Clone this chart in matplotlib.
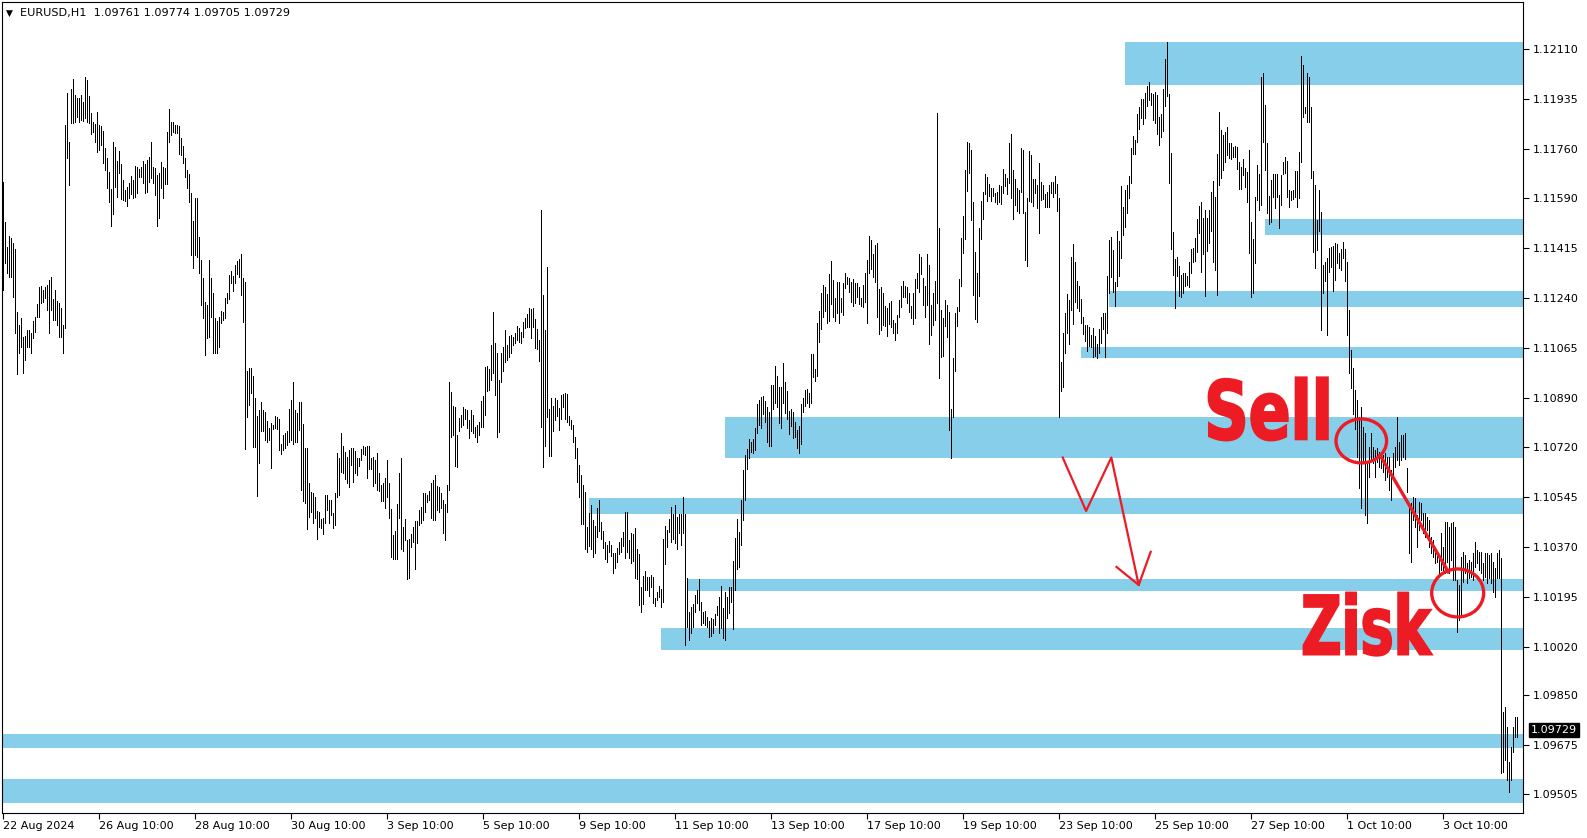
import matplotlib.pyplot as plt
import matplotlib.transforms as mtransforms
from matplotlib.font_manager import FontProperties
from matplotlib.patches import Ellipse, PathPatch
from matplotlib.textpath import TextPath
import numpy as np

# EURUSD H1 bars, first bar 22 Aug 2024 10:00, one bar per hour
highs = [
    1.11646, 1.11506, 1.11418, 1.11457, 1.11450, 1.11432, 1.11411, 1.11191, 1.11145, 1.11170,
    1.11103, 1.11107, 1.11128, 1.11128, 1.11117, 1.11159, 1.11173, 1.11219, 1.11278, 1.11282,
    1.11268, 1.11278, 1.11285, 1.11303, 1.11313, 1.11236, 1.11268, 1.11229, 1.11222, 1.11205,
    1.11145, 1.11845, 1.11957, 1.11786, 1.11971, 1.12006, 1.11950, 1.11940, 1.11940, 1.11950,
    1.11926, 1.12013, 1.12003, 1.11947, 1.11887, 1.11856, 1.11849, 1.11891, 1.11845, 1.11842,
    1.11824, 1.11765, 1.11730, 1.11681, 1.11621, 1.11786, 1.11768, 1.11719, 1.11754, 1.11709,
    1.11653, 1.11618, 1.11628, 1.11642, 1.11667, 1.11653, 1.11702, 1.11698, 1.11691, 1.11698,
    1.11719, 1.11709, 1.11723, 1.11733, 1.11786, 1.11698, 1.11695, 1.11670, 1.11677, 1.11716,
    1.11698, 1.11695, 1.11821, 1.11901, 1.11856, 1.11856, 1.11845, 1.11845, 1.11842, 1.11800,
    1.11772, 1.11730, 1.11688, 1.11674, 1.11607, 1.11509, 1.11590, 1.11590, 1.11453, 1.11373,
    1.11310, 1.11226, 1.11215, 1.11373, 1.11310, 1.11257, 1.11170, 1.11159, 1.11173, 1.11194,
    1.11191, 1.11240, 1.11257, 1.11320, 1.11334, 1.11317, 1.11355, 1.11369, 1.11376, 1.11394,
    1.11310, 1.11296,
    1.10984, 1.10995, 1.10995, 1.10967, 1.10890, 1.10827, 1.10848, 1.10876, 1.10848, 1.10841,
    1.10809, 1.10785, 1.10802, 1.10795, 1.10827, 1.10823, 1.10816, 1.10729, 1.10760, 1.10767,
    1.10774, 1.10851, 1.10883, 1.10946, 1.10848, 1.10837, 1.10876, 1.10876, 1.10799, 1.10715,
    1.10715, 1.10592, 1.10561, 1.10557, 1.10543, 1.10494, 1.10491, 1.10466, 1.10470, 1.10550,
    1.10550, 1.10533, 1.10533, 1.10487, 1.10557, 1.10697, 1.10680, 1.10767, 1.10722, 1.10701,
    1.10683, 1.10708, 1.10715, 1.10715, 1.10704, 1.10680, 1.10680, 1.10711, 1.10722, 1.10718,
    1.10722, 1.10722, 1.10680, 1.10683, 1.10673, 1.10697, 1.10627, 1.10585, 1.10592, 1.10610,
    1.10673, 1.10592, 1.10501, 1.10410, 1.10424, 1.10519, 1.10627, 1.10680, 1.10438, 1.10466,
    1.10393, 1.10396, 1.10414, 1.10438, 1.10459, 1.10459, 1.10498, 1.10508, 1.10557, 1.10557,
    1.10550, 1.10564, 1.10592, 1.10603, 1.10620, 1.10582, 1.10578, 1.10557, 1.10533, 1.10519,
    1.10585, 1.10946, 1.10911, 1.10862, 1.10858, 1.10760, 1.10820, 1.10830, 1.10858, 1.10851,
    1.10848, 1.10813, 1.10848, 1.10830, 1.10788, 1.10795, 1.10806, 1.10879, 1.10897, 1.10998,
    1.11002, 1.10991, 1.11075, 1.11191, 1.11082, 1.11047, 1.10953,
    1.11047, 1.11068, 1.11128, 1.11075, 1.11107, 1.11110, 1.11103, 1.11117, 1.11142, 1.11135,
    1.11121, 1.11156, 1.11170, 1.11184, 1.11205, 1.11201, 1.11205, 1.11166, 1.11131, 1.11093,
    1.11548, 1.11250, 1.11128, 1.11348, 1.10851, 1.10890, 1.10862, 1.10890, 1.10883, 1.10855,
    1.10900, 1.10904, 1.10907, 1.10904, 1.10827, 1.10813, 1.10795, 1.10753, 1.10715, 1.10655,
    1.10620, 1.10585, 1.10561, 1.10438, 1.10487, 1.10515, 1.10463, 1.10442, 1.10505, 1.10533,
    1.10456, 1.10424, 1.10386, 1.10375, 1.10389, 1.10375, 1.10347, 1.10347, 1.10365, 1.10386,
    1.10400, 1.10421, 1.10491, 1.10491, 1.10393, 1.10417, 1.10414, 1.10435, 1.10361, 1.10344,
    1.10228, 1.10267, 1.10284, 1.10263, 1.10263, 1.10270, 1.10263, 1.10190, 1.10211, 1.10232,
    1.10221, 1.10396, 1.10442, 1.10428, 1.10466, 1.10508, 1.10484, 1.10515, 1.10473, 1.10484,
    1.10484, 1.10543, 1.10484, 1.10260, 1.10141, 1.10158, 1.10169, 1.10200, 1.10218, 1.10256,
    1.10176, 1.10141, 1.10144, 1.10123, 1.10109, 1.10120, 1.10116, 1.10134, 1.10162, 1.10193,
    1.10232, 1.10155, 1.10211, 1.10193, 1.10228, 1.10228, 1.10319, 1.10400, 1.10466, 1.10421,
    1.10533, 1.10638, 1.10690,
    1.10712, 1.10746, 1.10736, 1.10746, 1.10785, 1.10869, 1.10883, 1.10893, 1.10897, 1.10879,
    1.10858, 1.10841, 1.10935, 1.10935, 1.11002, 1.10967, 1.10928, 1.10928, 1.11012, 1.10946,
    1.10914, 1.10844, 1.10851, 1.10841, 1.10806, 1.10778, 1.10792, 1.10869, 1.10890, 1.10918,
    1.10921, 1.10907, 1.11044, 1.11044, 1.10991, 1.11152, 1.11194, 1.11257, 1.11285, 1.11278,
    1.11254, 1.11324, 1.11369, 1.11303, 1.11240, 1.11296, 1.11296, 1.11240, 1.11292, 1.11327,
    1.11313, 1.11310, 1.11296, 1.11306, 1.11292, 1.11292, 1.11278, 1.11240, 1.11285, 1.11327,
    1.11373, 1.11457, 1.11443, 1.11394, 1.11425, 1.11432, 1.11271, 1.11278, 1.11257, 1.11212,
    1.11205, 1.11222, 1.11229, 1.11163, 1.11152, 1.11180, 1.11233, 1.11282, 1.11299, 1.11282,
    1.11278, 1.11257, 1.11212, 1.11257, 1.11306, 1.11327, 1.11394, 1.11383, 1.11310, 1.11282,
    1.11394, 1.11355, 1.11215, 1.11257, 1.11299, 1.11887, 1.11485, 1.11198, 1.11170, 1.11233,
    1.11215, 1.11191, 1.10851, 1.11030, 1.11187, 1.11208, 1.11306,
    1.11450, 1.11527, 1.11688, 1.11786, 1.11782, 1.11758, 1.11576, 1.11401, 1.11327, 1.11485,
    1.11579, 1.11611, 1.11674, 1.11663, 1.11639, 1.11625, 1.11625, 1.11607, 1.11611, 1.11635,
    1.11632, 1.11691, 1.11674, 1.11660, 1.11782, 1.11814, 1.11688, 1.11657, 1.11625, 1.11618,
    1.11765, 1.11758, 1.11541, 1.11590, 1.11754, 1.11741, 1.11657, 1.11657, 1.11635, 1.11712,
    1.11646, 1.11635, 1.11604, 1.11611, 1.11635, 1.11646, 1.11646, 1.11667, 1.11639, 1.11590,
    1.11016, 1.11117, 1.11187, 1.11254, 1.11233, 1.11383, 1.11429, 1.11366, 1.11299, 1.11282,
    1.11236, 1.11173, 1.11145, 1.11145, 1.11138, 1.11110, 1.11135, 1.11107, 1.11079, 1.11131,
    1.11173, 1.11187, 1.11187, 1.11317, 1.11443, 1.11453, 1.11408, 1.11296, 1.11474, 1.11439,
    1.11632, 1.11558, 1.11618, 1.11635, 1.11667, 1.11765, 1.11807, 1.11793, 1.11884, 1.11908,
    1.11936, 1.11936, 1.11957, 1.11982, 1.11996, 1.11957, 1.11954, 1.11961, 1.11950, 1.11873,
    1.11884, 1.11971, 1.12076, 1.12136, 1.11954, 1.11747, 1.11471, 1.11376, 1.11383, 1.11352,
    1.11320, 1.11327, 1.11327, 1.11317, 1.11366, 1.11411, 1.11415, 1.11450, 1.11516, 1.11562,
    1.11576, 1.11520, 1.11548, 1.11520, 1.11548, 1.11611, 1.11649, 1.11593, 1.11744, 1.11891,
    1.11828, 1.11810, 1.11821, 1.11838, 1.11782, 1.11782, 1.11768, 1.11772, 1.11768, 1.11716,
    1.11698, 1.11726, 1.11695, 1.11681, 1.11758, 1.11506, 1.11446, 1.11593, 1.11705, 1.11674,
    1.12013, 1.12027, 1.11915, 1.11782, 1.11597, 1.11653, 1.11674, 1.11674, 1.11674, 1.11600,
    1.11670, 1.11716, 1.11733, 1.11719, 1.11618, 1.11614, 1.11618, 1.11684, 1.11684, 1.11751,
    1.12087, 1.12055, 1.11908, 1.12027, 1.12013, 1.11908, 1.11684, 1.11635, 1.11513, 1.11618,
    1.11541, 1.11355, 1.11366, 1.11380, 1.11415, 1.11418, 1.11422, 1.11432, 1.11429, 1.11397,
    1.11411, 1.11436, 1.11411, 1.11366, 1.11198,
    1.11058, 1.10995, 1.10918, 1.10883, 1.10823, 1.10858, 1.10788, 1.10767, 1.10662, 1.10718,
    1.10767, 1.10718, 1.10708, 1.10715, 1.10701, 1.10680, 1.10690, 1.10697, 1.10683, 1.10683,
    1.10638, 1.10697, 1.10718, 1.10823, 1.10736, 1.10760, 1.10760, 1.10767, 1.10645, 1.10508,
    1.10522, 1.10543, 1.10540, 1.10480, 1.10526, 1.10522, 1.10487, 1.10487, 1.10473, 1.10463,
    1.10403, 1.10393, 1.10368, 1.10347, 1.10340, 1.10417, 1.10368, 1.10456, 1.10456, 1.10438,
    1.10452, 1.10456, 1.10438, 1.10253, 1.10235, 1.10333, 1.10351, 1.10340, 1.10312, 1.10323,
    1.10316, 1.10347, 1.10386, 1.10358, 1.10351, 1.10351, 1.10312, 1.10347, 1.10347, 1.10340,
    1.10347, 1.10316, 1.10295, 1.10347, 1.10358, 1.10330, 1.09791,
    1.09808, 1.09738, 1.09616, 1.09668, 1.09738, 1.09773, 1.09774,
]

lows = [
    1.11268, 1.11362, 1.11327, 1.11313, 1.11313, 1.11243, 1.11117, 1.10974, 1.11047, 1.11068,
    1.10977, 1.11023, 1.11068, 1.11068, 1.11047, 1.11100, 1.11121, 1.11173, 1.11173, 1.11222,
    1.11226, 1.11240, 1.11198, 1.11117, 1.11198, 1.11163, 1.11163, 1.11145, 1.11103, 1.11103,
    1.11047, 1.11135, 1.11730, 1.11635, 1.11852, 1.11852, 1.11856, 1.11873, 1.11856, 1.11863,
    1.11859, 1.11870, 1.11856, 1.11852, 1.11814, 1.11821, 1.11786, 1.11751, 1.11758, 1.11775,
    1.11712, 1.11688, 1.11625, 1.11576, 1.11492, 1.11534, 1.11628, 1.11593, 1.11677, 1.11586,
    1.11583, 1.11579, 1.11562, 1.11590, 1.11604, 1.11590, 1.11593, 1.11607, 1.11663, 1.11663,
    1.11642, 1.11607, 1.11611, 1.11646, 1.11660, 1.11642, 1.11600, 1.11492, 1.11520, 1.11625,
    1.11590, 1.11639, 1.11639, 1.11786, 1.11810, 1.11821, 1.11817, 1.11817, 1.11744, 1.11740,
    1.11712, 1.11663, 1.11625, 1.11576, 1.11390, 1.11345, 1.11390, 1.11383, 1.11327, 1.11215,
    1.11170, 1.11040, 1.11100, 1.11103, 1.11173, 1.11047, 1.11047, 1.11047, 1.11068, 1.11152,
    1.11163, 1.11170, 1.11222, 1.11236, 1.11292, 1.11264, 1.11292, 1.11324, 1.11313, 1.11250,
    1.11156, 1.10711,
    1.10823, 1.10865, 1.10907, 1.10718, 1.10718, 1.10547, 1.10662, 1.10774, 1.10774, 1.10743,
    1.10736, 1.10743, 1.10645, 1.10781, 1.10785, 1.10781, 1.10708, 1.10694, 1.10708, 1.10715,
    1.10725, 1.10736, 1.10743, 1.10729, 1.10736, 1.10736, 1.10778, 1.10568, 1.10529, 1.10522,
    1.10431, 1.10473, 1.10491, 1.10452, 1.10470, 1.10396, 1.10438, 1.10435, 1.10414, 1.10452,
    1.10498, 1.10452, 1.10480, 1.10435, 1.10445, 1.10543, 1.10550, 1.10631, 1.10627, 1.10606,
    1.10592, 1.10578, 1.10655, 1.10596, 1.10627, 1.10620, 1.10652, 1.10673, 1.10694, 1.10690,
    1.10610, 1.10641, 1.10641, 1.10582, 1.10592, 1.10568, 1.10564, 1.10529, 1.10529, 1.10505,
    1.10543, 1.10470, 1.10333, 1.10326, 1.10326, 1.10326, 1.10470, 1.10361, 1.10354, 1.10393,
    1.10256, 1.10260, 1.10368, 1.10386, 1.10291, 1.10382, 1.10445, 1.10452, 1.10463, 1.10491,
    1.10526, 1.10533, 1.10470, 1.10463, 1.10463, 1.10498, 1.10491, 1.10505, 1.10417, 1.10393,
    1.10491, 1.10568, 1.10753, 1.10760, 1.10652, 1.10648, 1.10774, 1.10788, 1.10795, 1.10816,
    1.10785, 1.10750, 1.10774, 1.10767, 1.10753, 1.10736, 1.10760, 1.10788, 1.10788, 1.10830,
    1.10914, 1.10918, 1.10953, 1.10977, 1.10900, 1.10753, 1.10771,
    1.10946, 1.10984, 1.11016, 1.11023, 1.11033, 1.11047, 1.11075, 1.11082, 1.11093, 1.11086,
    1.11082, 1.11103, 1.11135, 1.11138, 1.11138, 1.11100, 1.11138, 1.11065, 1.11061, 1.11019,
    1.10788, 1.10648, 1.10722, 1.10823, 1.10687, 1.10687, 1.10774, 1.10813, 1.10827, 1.10778,
    1.10816, 1.10858, 1.10816, 1.10806, 1.10795, 1.10781, 1.10736, 1.10680, 1.10596, 1.10543,
    1.10449, 1.10449, 1.10361, 1.10351, 1.10372, 1.10361, 1.10333, 1.10347, 1.10403, 1.10424,
    1.10396, 1.10365, 1.10326, 1.10316, 1.10351, 1.10337, 1.10277, 1.10295, 1.10316, 1.10344,
    1.10351, 1.10372, 1.10330, 1.10351, 1.10330, 1.10312, 1.10319, 1.10260, 1.10256, 1.10165,
    1.10141, 1.10169, 1.10218, 1.10218, 1.10197, 1.10228, 1.10172, 1.10162, 1.10183, 1.10193,
    1.10158, 1.10176, 1.10309, 1.10368, 1.10421, 1.10386, 1.10396, 1.10382, 1.10361, 1.10417,
    1.10375, 1.10417, 1.10025, 1.10088, 1.10043, 1.10067, 1.10088, 1.10141, 1.10172, 1.10148,
    1.10095, 1.10102, 1.10095, 1.10088, 1.10053, 1.10057, 1.10067, 1.10095, 1.10130, 1.10067,
    1.10085, 1.10050, 1.10043, 1.10120, 1.10137, 1.10176, 1.10081, 1.10218, 1.10291, 1.10298,
    1.10375, 1.10463, 1.10533,
    1.10641, 1.10680, 1.10701, 1.10697, 1.10708, 1.10767, 1.10795, 1.10785, 1.10834, 1.10806,
    1.10736, 1.10722, 1.10722, 1.10851, 1.10872, 1.10858, 1.10802, 1.10785, 1.10872, 1.10837,
    1.10816, 1.10764, 1.10792, 1.10750, 1.10753, 1.10715, 1.10697, 1.10729, 1.10841, 1.10862,
    1.10872, 1.10858, 1.10872, 1.10963, 1.10949, 1.10967, 1.11086, 1.11131, 1.11173, 1.11194,
    1.11152, 1.11159, 1.11219, 1.11173, 1.11159, 1.11187, 1.11152, 1.11191, 1.11180, 1.11275,
    1.11289, 1.11261, 1.11226, 1.11212, 1.11222, 1.11243, 1.11219, 1.11212, 1.11208, 1.11226,
    1.11152, 1.11327, 1.11341, 1.11313, 1.11296, 1.11173, 1.11114, 1.11128, 1.11145, 1.11142,
    1.11107, 1.11149, 1.11138, 1.11117, 1.11093, 1.11117, 1.11173, 1.11208, 1.11243, 1.11243,
    1.11222, 1.11191, 1.11170, 1.11149, 1.11170, 1.11275, 1.11261, 1.11324, 1.11215, 1.11173,
    1.11215, 1.11079, 1.11110, 1.11145, 1.11163, 1.11222, 1.10960, 1.11033, 1.11037, 1.11142,
    1.11103, 1.10778, 1.10680, 1.10823, 1.10984, 1.11142, 1.11194,
    1.11282, 1.11397, 1.11446, 1.11614, 1.11677, 1.11513, 1.11250, 1.11166, 1.11156, 1.11247,
    1.11446, 1.11516, 1.11604, 1.11579, 1.11597, 1.11579, 1.11597, 1.11576, 1.11569, 1.11576,
    1.11569, 1.11607, 1.11632, 1.11604, 1.11642, 1.11590, 1.11516, 1.11566, 1.11545, 1.11538,
    1.11611, 1.11538, 1.11373, 1.11352, 1.11579, 1.11576, 1.11562, 1.11607, 1.11555, 1.11468,
    1.11583, 1.11586, 1.11558, 1.11558, 1.11558, 1.11607, 1.11593, 1.11607, 1.11545, 1.10823,
    1.10914, 1.10928, 1.11047, 1.11117, 1.11079, 1.11198, 1.11149, 1.11226, 1.11205, 1.11194,
    1.11152, 1.11114, 1.11090, 1.11054, 1.11072, 1.11068, 1.11033, 1.11037, 1.11030, 1.11047,
    1.11082, 1.11131, 1.11033, 1.11117, 1.11257, 1.11313, 1.11261, 1.11212, 1.11282, 1.11317,
    1.11380, 1.11460, 1.11488, 1.11538, 1.11590, 1.11642, 1.11744, 1.11744, 1.11786, 1.11831,
    1.11870, 1.11849, 1.11870, 1.11912, 1.11933, 1.11915, 1.11863, 1.11852, 1.11814, 1.11775,
    1.11803, 1.11824, 1.11912, 1.11947, 1.11642, 1.11411, 1.11320, 1.11205, 1.11317, 1.11247,
    1.11243, 1.11257, 1.11282, 1.11285, 1.11278, 1.11327, 1.11366, 1.11369, 1.11401, 1.11468,
    1.11331, 1.11394, 1.11247, 1.11404, 1.11432, 1.11474, 1.11366, 1.11338, 1.11250, 1.11635,
    1.11660, 1.11688, 1.11716, 1.11740, 1.11730, 1.11726, 1.11733, 1.11733, 1.11691, 1.11621,
    1.11621, 1.11670, 1.11628, 1.11576, 1.11397, 1.11243, 1.11257, 1.11362, 1.11583, 1.11548,
    1.11565, 1.11786, 1.11688, 1.11538, 1.11499, 1.11506, 1.11593, 1.11555, 1.11593, 1.11485,
    1.11565, 1.11674, 1.11677, 1.11593, 1.11558, 1.11583, 1.11586, 1.11593, 1.11558, 1.11590,
    1.11716, 1.11873, 1.11887, 1.11856, 1.11856, 1.11660, 1.11401, 1.11345, 1.11408, 1.11474,
    1.11128, 1.11257, 1.11299, 1.11110, 1.11331, 1.11348, 1.11264, 1.11303, 1.11362, 1.11345,
    1.11338, 1.11380, 1.11299, 1.11110, 1.10977,
    1.10925, 1.10834, 1.10781, 1.10683, 1.10575, 1.10505, 1.10666, 1.10480, 1.10452, 1.10613,
    1.10673, 1.10662, 1.10613, 1.10666, 1.10648, 1.10645, 1.10631, 1.10603, 1.10613, 1.10568,
    1.10533, 1.10613, 1.10648, 1.10673, 1.10655, 1.10673, 1.10683, 1.10676, 1.10561, 1.10347,
    1.10316, 1.10463, 1.10438, 1.10368, 1.10428, 1.10463, 1.10417, 1.10403, 1.10428, 1.10368,
    1.10347, 1.10333, 1.10312, 1.10316, 1.10263, 1.10288, 1.10277, 1.10277, 1.10316, 1.10277,
    1.10323, 1.10253, 1.10253, 1.10071, 1.10113, 1.10123, 1.10246, 1.10277, 1.10242, 1.10260,
    1.10263, 1.10253, 1.10298, 1.10312, 1.10288, 1.10277, 1.10253, 1.10263, 1.10242, 1.10260,
    1.10242, 1.10211, 1.10193, 1.10260, 1.10260, 1.09577, 1.09581,
    1.09623, 1.09553, 1.09511, 1.09553, 1.09651, 1.09703, 1.09705,
]

last_ohlc = ["1.09761", "1.09774", "1.09705", "1.09729"]
last_price = 1.09729

date_labels = ["22 Aug 2024", "26 Aug 10:00", "28 Aug 10:00", "30 Aug 10:00",
               "3 Sep 10:00", "5 Sep 10:00", "9 Sep 10:00", "11 Sep 10:00",
               "13 Sep 10:00", "17 Sep 10:00", "19 Sep 10:00", "23 Sep 10:00",
               "25 Sep 10:00", "27 Sep 10:00", "1 Oct 10:00", "3 Oct 10:00"]
date_bars = [0, 48, 96, 144, 192, 240, 288, 336, 384, 432, 480, 528, 576, 624, 672, 720]

price_ticks = [1.12110, 1.11935, 1.11760, 1.11590, 1.11415, 1.11240, 1.11065, 1.10890,
               1.10720, 1.10545, 1.10370, 1.10195, 1.10020, 1.09850, 1.09675, 1.09505]

# support / resistance zones drawn by hand: start bar (None = whole chart), low, high
zone_start = [561, 631, 553, 539, 361, 293, 342, 329, None, None]
zone_low = [1.11984, 1.11459, 1.11209, 1.11030, 1.10682, 1.10484, 1.10216, 1.10008, 1.09665, 1.09473]
zone_high = [1.12136, 1.11517, 1.11265, 1.11069, 1.10825, 1.10542, 1.10257, 1.10086, 1.09714, 1.09557]

RED = "#ED1C24"
ZONE = "#87CEEB"
W, H = 1587, 838
x_lo, x_hi = -0.35, 760.15
y_lo, y_hi = 1.09438, 1.12276


def big_label(ax, text, left, right, base, top):
    # heavy condensed caption, squeezed into the box it covers on the chart
    tp = TextPath((0, 0), text, size=1, prop=FontProperties(family="DejaVu Sans", weight="bold"))
    ext = tp.get_extents()
    tr = (mtransforms.Affine2D()
          .translate(-ext.x0, -ext.y0)
          .scale((right - left) / ext.width, (top - base) / ext.height)
          .translate(left, base))
    ax.add_patch(PathPatch(tr.transform_path(tp), fc=RED, ec=RED, lw=1.6, zorder=6))


fig = plt.figure(figsize=(W / 100, H / 100), dpi=100)
ax = fig.add_axes([2 / W, 1 - 813 / H, 1521 / W, 811 / H])
ax.set_xlim(x_lo, x_hi)
ax.set_ylim(y_lo, y_hi)

for start, lo, hi in zip(zone_start, zone_low, zone_high):
    x0 = x_lo if start is None else start
    ax.fill_between([x0, x_hi], lo, hi, color=ZONE, lw=0, zorder=1)

bars = np.arange(len(highs))
ax.vlines(bars, lows, highs, colors="black", linewidth=0.6, antialiased=False, zorder=3)

# annotations
big_label(ax, "Sell", 603.0, 662.5, 1.10742, 1.10962)
big_label(ax, "Zisk", 650.5, 714.5, 1.09989, 1.10209)
ax.add_patch(Ellipse((679.3, 1.10740), 25.3, 0.00154, fill=False, ec=RED, lw=2.4, zorder=6))
ax.add_patch(Ellipse((727.5, 1.10208), 26.0, 0.00168, fill=False, ec=RED, lw=2.4, zorder=6))
ax.plot([688.6, 722.8], [1.10691, 1.10282], color=RED, lw=2.4, zorder=6)
ax.plot([530, 541.7, 554.3, 568], [1.10682, 1.10495, 1.10682, 1.10236], color=RED, lw=1.6, zorder=6)
ax.plot([556.9, 568, 574], [1.10299, 1.10236, 1.10352], color=RED, lw=1.6, zorder=6)

# axes styling like the terminal
for sp in ax.spines.values():
    sp.set_linewidth(0.8)
ax.yaxis.tick_right()
ax.set_yticks(price_ticks)
ax.set_yticklabels([f"{t:.5f}" for t in price_ticks])
ax.tick_params(axis="y", length=4, width=0.8, pad=3, labelsize=8)
ax.set_xticks(date_bars)
ax.set_xticklabels(date_labels, ha="left")
ax.tick_params(axis="x", length=4, width=0.8, pad=2, labelsize=8)

trans = mtransforms.blended_transform_factory(ax.transAxes, ax.transData)
ax.text(1 + 8 / 1521, last_price, f"{last_price:.5f}", transform=trans, color="white",
        fontsize=8, va="center", ha="left", clip_on=False, zorder=7,
        bbox=dict(boxstyle="square,pad=0.2", fc="black", ec="black"))

fig.text(6 / W, 1 - 13 / H, "\u25BC", fontsize=6.5, va="center", ha="left")
fig.text(20 / W, 1 - 13 / H, "EURUSD,H1  " + " ".join(last_ohlc), fontsize=8.1,
         va="center", ha="left")

fig.savefig("out.png", dpi=100)
